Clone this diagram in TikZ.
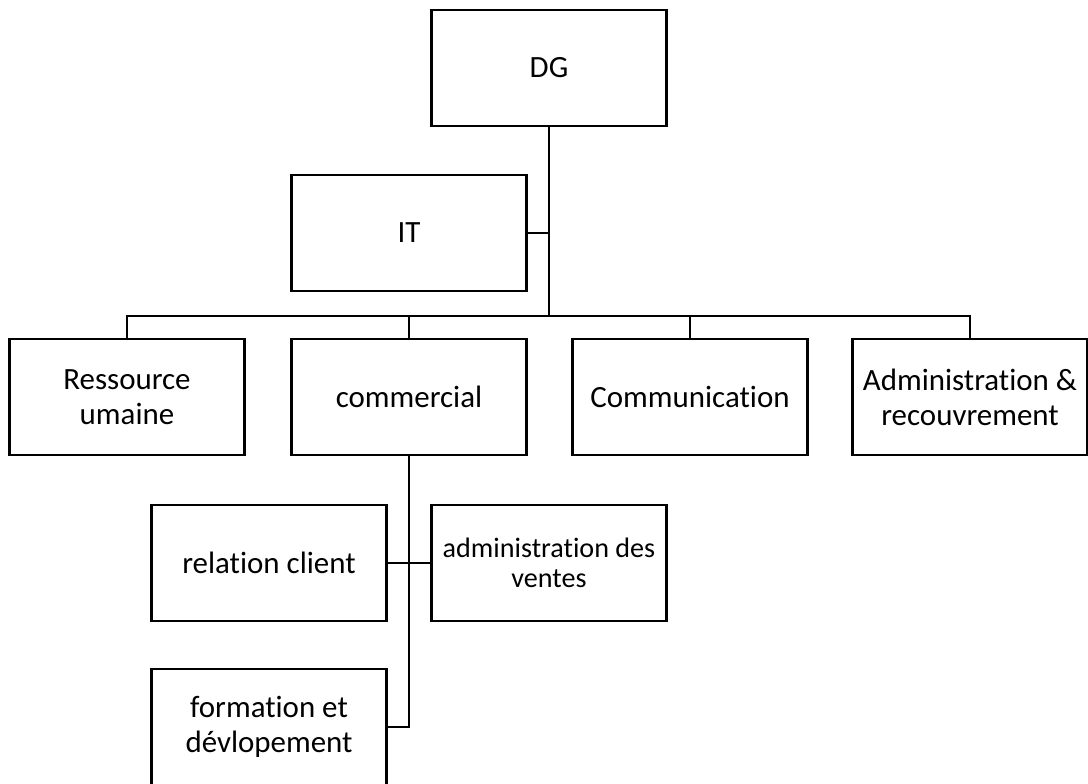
\documentclass[tikz,border=0pt]{standalone}
\usepackage{fontspec}
\setmainfont{Carlito}[Ligatures=NoCommon]
\usepackage{tikz}
\usetikzlibrary{positioning}

\tikzset{
  unit/.style={draw, line width=2.1pt, minimum width=5.85cm, minimum height=2.9cm,
    align=center, inner sep=0pt, font=\fontsize{22}{25}\selectfont},
  small/.style={font=\fontsize{20}{21}\selectfont},
  link/.style={line width=2.1pt}
}

\begin{document}
\begin{tikzpicture}[x=0.025cm, y=-0.025cm]
    \useasboundingbox (0,0) rectangle (1088,784);

    \node[unit] (dg) at (549, 68) {DG};
    \node[unit] (it) at (409, 233) {IT};
    \node[unit] (rh) at (127, 397) {Ressource\\umaine};
    \node[unit] (com) at (409, 397) {commercial};
    \node[unit] (comm) at (690, 397) {Communication};
    \node[unit] (admin) at (970, 397) {Administration \&\\recouvrement};
    \node[unit] (rc) at (269, 563) {relation client};
    \node[unit, small] (adv) at (549, 563) {administration des\\ventes};
    \node[unit] (fd) at (269, 727) {formation et\\dévlopement};

    \coordinate (hub) at (549, 316);

    \draw[link] (dg.south) -- (hub);
    \draw[link] (it.east) -- (it.east -| hub);
    \draw[link] (rh.north) |- (hub) -| (admin.north);
    \draw[link] (com.north) -- (com.north |- hub);
    \draw[link] (comm.north) -- (comm.north |- hub);
    \draw[link] (com.south) |- (fd.east);
    \draw[link] (rc.east) -- (adv.west);
\end{tikzpicture}
\end{document}
